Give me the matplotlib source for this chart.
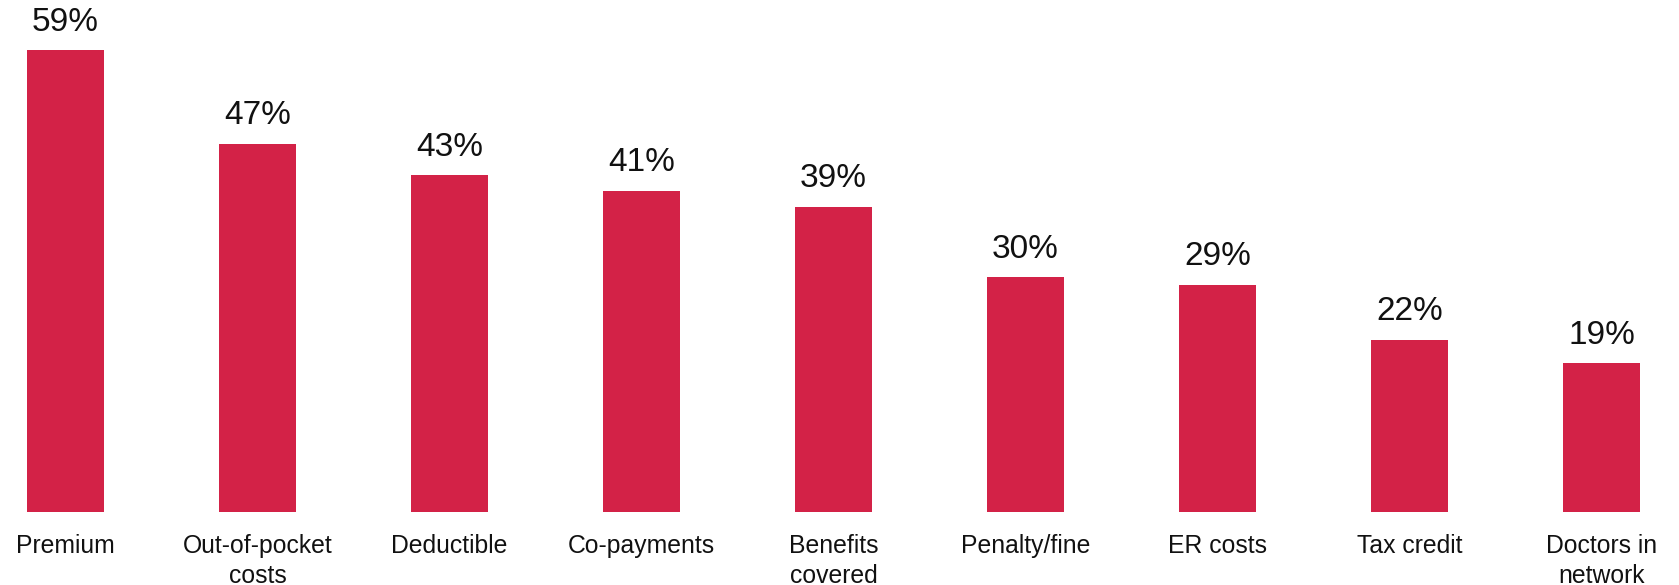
import matplotlib
matplotlib.use("Agg")
import matplotlib.pyplot as plt
import numpy as np

categories = ["Premium", "Out-of-pocket\ncosts", "Deductible", "Co-payments",
              "Benefits\ncovered", "Penalty/fine", "ER costs", "Tax credit",
              "Doctors in\nnetwork"]
values = [59, 47, 43, 41, 39, 30, 29, 22, 19]

BAR_COLOR = "#D32247"

plt.rcParams["font.family"] = ["Liberation Sans", "DejaVu Sans"]

fig = plt.figure(figsize=(16.79, 5.85), dpi=100)
ax = fig.add_axes([0, 73 / 585, 1, 512 / 585])

x = np.arange(len(categories))
ax.bar(x, values, width=0.40, color=BAR_COLOR)

for xi, v in zip(x, values):
    ax.annotate(f"{v}%", (xi, v), xytext=(0, 9), textcoords="offset points",
                ha="center", va="bottom", fontsize=24, color="#111111")

ax.set_xlim(-65.5 / 192, 8 + (1679 - 1601.5) / 192)
ax.set_ylim(0, 512 / 7.83)
ax.set_xticks(x)
ax.set_xticklabels(categories, fontsize=17.8, linespacing=1.3, color="#111111")
ax.tick_params(axis="x", length=0, pad=16)
ax.set_yticks([])
for s in ax.spines.values():
    s.set_visible(False)

fig.savefig("out.png", dpi=100)
